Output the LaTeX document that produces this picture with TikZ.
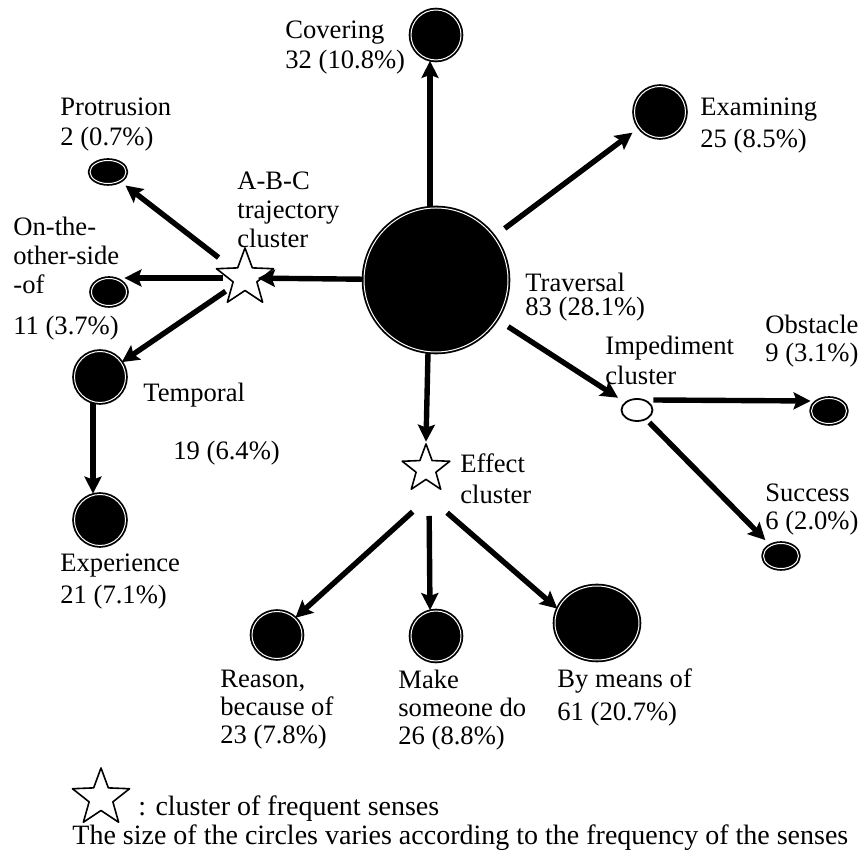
\documentclass[tikz,border=0pt]{standalone}
\usepackage{fontspec}
\setmainfont{Liberation Serif}
\usetikzlibrary{shapes.geometric,arrows.meta}
\begin{document}
\begin{tikzpicture}[x=0.5pt, y=-0.5pt, font=\fontsize{13.3}{15}\selectfont, line join=round, >={Stealth[length=8.5pt,width=8.5pt,inset=1.5pt]}]
	\tikzset{sense/.style={ellipse, fill=black, draw=black, double=white, double distance=0.5pt, line width=0.9pt, inner sep=0pt},
		clus/.style={star, star points=5, star point ratio=2.4, draw=black, fill=white, line width=0.8pt, inner sep=0pt},
		lbl/.style={anchor=north west, inner sep=0pt, align=left},
		arr/.style={->, line width=2.7pt}}
	\useasboundingbox (0,0) rectangle (859,854);
	% Các nghĩa (senses) và cụm
	\node[sense, minimum width=72pt, minimum height=72pt] (trav) at (436,280) {};
	\node[sense, minimum size=25pt] (cov) at (436,35) {};
	\node[sense, minimum size=25.5pt] (exam) at (660,112) {};
	\node[ellipse, draw=black, fill=white, line width=0.9pt, inner sep=0pt, minimum width=15.5pt, minimum height=11pt] (imp) at (637,410) {};
	\node[sense, minimum width=17.5pt, minimum height=12.5pt] (obs) at (829,411) {};
	\node[sense, minimum width=17.5pt, minimum height=12.5pt] (succ) at (781,556) {};
	\node[clus, minimum size=30pt] (abc) at (245,278) {};
	\node[sense, minimum width=18pt, minimum height=11.5pt] (prot) at (108,172) {};
	\node[sense, minimum width=17.5pt, minimum height=13.5pt] (other) at (109,292) {};
	\node[sense, minimum size=25.5pt] (temp) at (100,377) {};
	\node[sense, minimum size=25.5pt] (exper) at (100,520) {};
	\node[clus, minimum size=25pt] (eff) at (426,469) {};
	\coordinate (effhub) at (429,497);
	\node[sense, minimum width=25pt, minimum height=23.5pt] (reas) at (277,635) {};
	\node[sense, minimum size=25pt] (make) at (436,636) {};
	\node[sense, minimum width=42pt, minimum height=37pt] (bym) at (597,623) {};
	% Nhãn
	\node[lbl] (covlbl) at (285,20) {Covering\\32 (10.8\%)};
	\node[lbl] (protlbl) at (60,97) {Protrusion\\2 (0.7\%)};
	\node[lbl, font=\fontsize{13.3}{14.5}\selectfont] (abclbl) at (237,171) {A-B-C\\trajectory\\cluster};
	\node[lbl, font=\fontsize{13.3}{14.5}\selectfont] (otherlbl) at (13,217) {On-the-\\other-side\\-of\\[6pt]11 (3.7\%)};
	\node[lbl] (templbl) at (143,383) {Temporal};
	\node[lbl] (tempnum) at (173,441) {19 (6.4\%)};
	\node[lbl, font=\fontsize{13.3}{16}\selectfont] (experlbl) at (60,553) {Experience\\21 (7.1\%)};
	\node[lbl, font=\fontsize{13.3}{14}\selectfont] (reaslbl) at (220,670) {Reason,\\because of\\23 (7.8\%)};
	\node[lbl, font=\fontsize{13.3}{14}\selectfont] (makelbl) at (398,670) {Make\\someone do\\26 (8.8\%)};
	\node[lbl, font=\fontsize{13.3}{16.5}\selectfont] (bymlbl) at (557,668) {By means of\\61 (20.7\%)};
	\node[lbl, font=\fontsize{13.3}{12}\selectfont] (travlbl) at (525,273) {Traversal\\83 (28.1\%)};
	\node[lbl, font=\fontsize{13.3}{16}\selectfont] (examlbl) at (700,97) {Examining\\25 (8.5\%)};
	\node[lbl] (implbl) at (605,336) {Impediment\\cluster};
	\node[lbl, font=\fontsize{13.3}{14}\selectfont] (obslbl) at (765,315) {Obstacle\\9 (3.1\%)};
	\node[lbl, font=\fontsize{13.3}{15.5}\selectfont] (efflbl) at (460,453) {Effect\\cluster};
	\node[lbl, font=\fontsize{13.3}{14}\selectfont] (succlbl) at (765,483) {Success\\6 (2.0\%)};
	\node[clus, minimum size=30pt] (key) at (101,798) {};
	\node[lbl, font=\fontsize{14}{16}\selectfont] (keylbl) at (138,795) {: cluster of frequent senses};
	\node[lbl, font=\fontsize{14}{16}\selectfont] (notelbl) at (72,824) {The size of the circles varies according to the frequency of the senses};
	% Mũi tên
	\draw[arr] ([xshift=-3pt]trav.north) -- ([xshift=-3pt]cov.south);
	\draw[arr, shorten <=6.5pt, shorten >=4pt] (trav) -- (exam);
	\draw[arr, shorten <=6.5pt, shorten >=4pt] (trav) -- (imp);
	\draw[arr, shorten >=-2.5pt] (trav) -- (abc);
	\draw[arr] ([xshift=-4pt]trav.south) -- (eff.north);
	\draw[arr, shorten <=8pt, shorten >=3.3pt] (abc) -- (prot);
	\draw[arr, shorten <=2pt, shorten >=-1.5pt] (abc) -- (abc -| other.east);
	\draw[arr, shorten <=3pt] (abc) -- (temp);
	\draw[arr] ([xshift=-3.5pt]temp.south) -- ([xshift=-3.5pt]exper.north);
	\draw[arr] ([yshift=5pt]imp.east) -- ([yshift=5pt]obs.west);
	\draw[arr, shorten <=2pt, shorten >=3.5pt] (imp) -- (succ);
	\draw[arr, shorten <=11pt] (effhub) -- (reas.43);
	\draw[arr, shorten <=9.5pt] (effhub) -- ([xshift=-3pt]make.north);
	\draw[arr, shorten <=12pt] (effhub) -- (bym.160);
\end{tikzpicture}
\end{document}
